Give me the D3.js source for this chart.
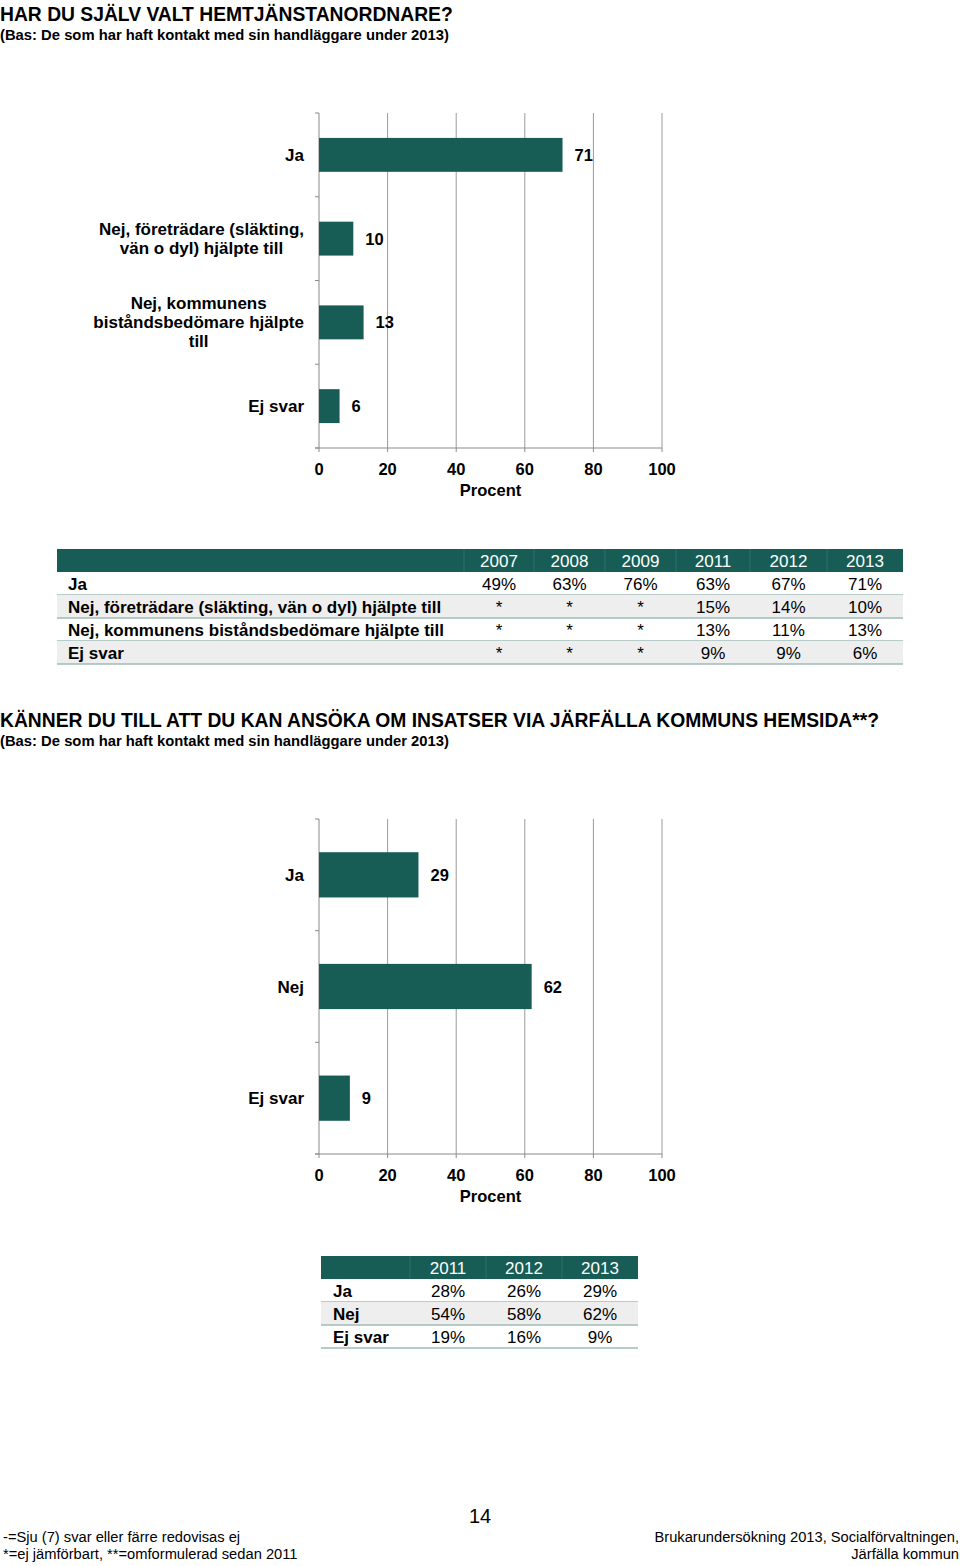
<!DOCTYPE html>
<html><head><meta charset="utf-8">
<script src="https://cdn.jsdelivr.net/npm/d3@7"></script>
<style>
body{margin:0;background:#fff;}
svg{display:block;font-family:"Liberation Sans",Arial,sans-serif;}
</style></head>
<body>
<script>
// ---------- data ----------
const title1 = "HAR DU SJÄLV VALT HEMTJÄNSTANORDNARE?";
const subtitle1 = "(Bas: De som har haft kontakt med sin handläggare under 2013)";
const cats1 = [["Ja"], ["Nej, företrädare (släkting,", "vän o dyl) hjälpte till"], ["Nej, kommunens", "biståndsbedömare hjälpte", "till"], ["Ej svar"]];
const vals1 = [71, 10, 13, 6];
const years1 = ["2007", "2008", "2009", "2011", "2012", "2013"];
const rowLabels1 = ["Ja", "Nej, företrädare (släkting, vän o dyl) hjälpte till", "Nej, kommunens biståndsbedömare hjälpte till", "Ej svar"];
const table1 = [
  ["49%", "63%", "76%", "63%", "67%", "71%"],
  ["*", "*", "*", "15%", "14%", "10%"],
  ["*", "*", "*", "13%", "11%", "13%"],
  ["*", "*", "*", "9%", "9%", "6%"]
];
const title2 = "KÄNNER DU TILL ATT DU KAN ANSÖKA OM INSATSER VIA JÄRFÄLLA KOMMUNS HEMSIDA**?";
const subtitle2 = "(Bas: De som har haft kontakt med sin handläggare under 2013)";
const cats2 = [["Ja"], ["Nej"], ["Ej svar"]];
const vals2 = [29, 62, 9];
const years2 = ["2011", "2012", "2013"];
const rowLabels2 = ["Ja", "Nej", "Ej svar"];
const table2 = [
  ["28%", "26%", "29%"],
  ["54%", "58%", "62%"],
  ["19%", "16%", "9%"]
];
const xTicks = [0, 20, 40, 60, 80, 100];
const axisTitle = "Procent";
const pageNo = "14";
const footLeft = ["-=Sju (7) svar eller färre redovisas ej", "*=ej jämförbart, **=omformulerad sedan 2011"];
const footRight = ["Brukarundersökning 2013, Socialförvaltningen,", "Järfälla kommun"];

// ---------- drawing ----------
const W = 960, H = 1566;
const TEAL = "#175d56";
const svg = d3.select("body").append("svg").attr("width", W).attr("height", H);

function titleBlock(t, s, y) {
  svg.append("text").attr("x", 0).attr("y", y).attr("font-size", 19.3).attr("font-weight", "bold").text(t);
  svg.append("text").attr("x", 0).attr("y", y + 19).attr("font-size", 14.8).attr("font-weight", "bold").text(s);
}

function barChart(cats, vals, top, bottom) {
  const x = d3.scaleLinear().domain([0, 100]).range([319, 662]);
  const y = d3.scaleBand().domain(d3.range(cats.length)).range([top, bottom]).paddingInner(0).paddingOuter(0);
  const g = svg.append("g");
  g.selectAll(".grid").data(xTicks.slice(1)).join("line")
    .attr("x1", d => x(d)).attr("x2", d => x(d)).attr("y1", top).attr("y2", bottom)
    .attr("stroke", "#9a9a9a").attr("stroke-width", 1);
  g.append("line").attr("x1", x(0)).attr("x2", x(0)).attr("y1", top).attr("y2", bottom).attr("stroke", "#8a8a8a");
  g.append("line").attr("x1", x(0) - 4).attr("x2", x(100)).attr("y1", bottom).attr("y2", bottom).attr("stroke", "#8a8a8a");
  const bounds = d3.range(cats.length + 1).map(i => top + i * y.step());
  g.selectAll(".lt").data(bounds).join("line")
    .attr("x1", x(0) - 4).attr("x2", x(0)).attr("y1", d => d).attr("y2", d => d).attr("stroke", "#8a8a8a");
  g.selectAll(".bt").data(xTicks).join("line")
    .attr("x1", d => x(d)).attr("x2", d => x(d)).attr("y1", bottom).attr("y2", bottom + 4).attr("stroke", "#8a8a8a");
  g.selectAll(".tl").data(xTicks).join("text")
    .attr("x", d => x(d)).attr("y", bottom + 27).attr("text-anchor", "middle")
    .attr("font-size", 16.5).attr("font-weight", "bold").text(d => d);
  g.append("text").attr("x", (x(0) + x(100)) / 2).attr("y", bottom + 48).attr("text-anchor", "middle")
    .attr("font-size", 16.5).attr("font-weight", "bold").text(axisTitle);
  const bh = y.bandwidth() * 0.405;
  g.selectAll(".bar").data(vals).join("rect")
    .attr("x", x(0)).attr("y", (d, i) => y(i) + y.bandwidth() / 2 - bh / 2)
    .attr("width", d => x(d) - x(0)).attr("height", bh).attr("fill", TEAL);
  g.selectAll(".vl").data(vals).join("text")
    .attr("x", d => x(d) + 12).attr("y", (d, i) => y(i) + y.bandwidth() / 2 + 6)
    .attr("font-size", 16.5).attr("font-weight", "bold").text(d => d);
  cats.forEach((lines, i) => {
    const t = g.append("text").attr("font-size", 17).attr("font-weight", "bold").attr("text-anchor", "middle");
    const cy = y(i) + y.bandwidth() / 2;
    const lh = 19;
    lines.forEach((l, j) => {
      t.append("tspan").attr("y", cy + 6 + (j - (lines.length - 1) / 2) * lh).text(l);
    });
    let maxW = 0;
    t.selectAll("tspan").each(function () { maxW = Math.max(maxW, this.getComputedTextLength()); });
    t.selectAll("tspan").attr("x", 304 - maxW / 2);
  });
}

function table(years, rowLabels, rows, x0, colEdges, top, rh, labelX) {
  const g = svg.append("g");
  const x1 = colEdges[colEdges.length - 1];
  g.append("rect").attr("x", x0).attr("y", top).attr("width", x1 - x0).attr("height", rh).attr("fill", TEAL);
  colEdges.slice(0, -1).forEach(e => {
    g.append("line").attr("x1", e).attr("x2", e).attr("y1", top).attr("y2", top + rh).attr("stroke", "#2f7068").attr("stroke-width", 1);
  });
  years.forEach((yv, j) => {
    g.append("text").attr("x", (colEdges[j] + colEdges[j + 1]) / 2).attr("y", top + rh - 5)
      .attr("text-anchor", "middle").attr("font-size", 17).attr("fill", "#fff").text(yv);
  });
  rows.forEach((r, i) => {
    const ry = top + rh * (i + 1);
    if (i % 2 === 1) g.append("rect").attr("x", x0).attr("y", ry).attr("width", x1 - x0).attr("height", rh).attr("fill", "#eeeeee");
    g.append("line").attr("x1", x0).attr("x2", x1).attr("y1", ry + rh).attr("y2", ry + rh).attr("stroke", "#9fbbb7").attr("stroke-width", 1.5);
    g.append("text").attr("x", labelX).attr("y", ry + rh - 5).attr("font-size", 17).attr("font-weight", "bold").text(rowLabels[i]);
    r.forEach((v, j) => {
      g.append("text").attr("x", (colEdges[j] + colEdges[j + 1]) / 2).attr("y", ry + rh - 5)
        .attr("text-anchor", "middle").attr("font-size", 17).text(v);
    });
  });
}

titleBlock(title1, subtitle1, 21);
barChart(cats1, vals1, 113, 448);
table(years1, rowLabels1, table1, 57, [464, 534, 605, 676, 750, 827, 903], 549, 23, 68);

titleBlock(title2, subtitle2, 727);
barChart(cats2, vals2, 819, 1154);
table(years2, rowLabels2, table2, 321, [410, 486, 562, 638], 1256, 23, 333);

const NARROW = "'Liberation Sans Narrow','Arial Narrow',sans-serif";
svg.append("text").attr("x", 480).attr("y", 1523).attr("text-anchor", "middle").attr("font-size", 20)
  .attr("font-family", NARROW).text(pageNo);
footLeft.forEach((t, i) => svg.append("text").attr("x", 3).attr("y", 1542 + i * 17).attr("font-size", 14.7)
  .attr("font-family", NARROW).text(t));
footRight.forEach((t, i) => svg.append("text").attr("x", 959).attr("y", 1542 + i * 17).attr("text-anchor", "end")
  .attr("font-size", 14.7).attr("font-family", NARROW).text(t));
</script>
</body></html>
